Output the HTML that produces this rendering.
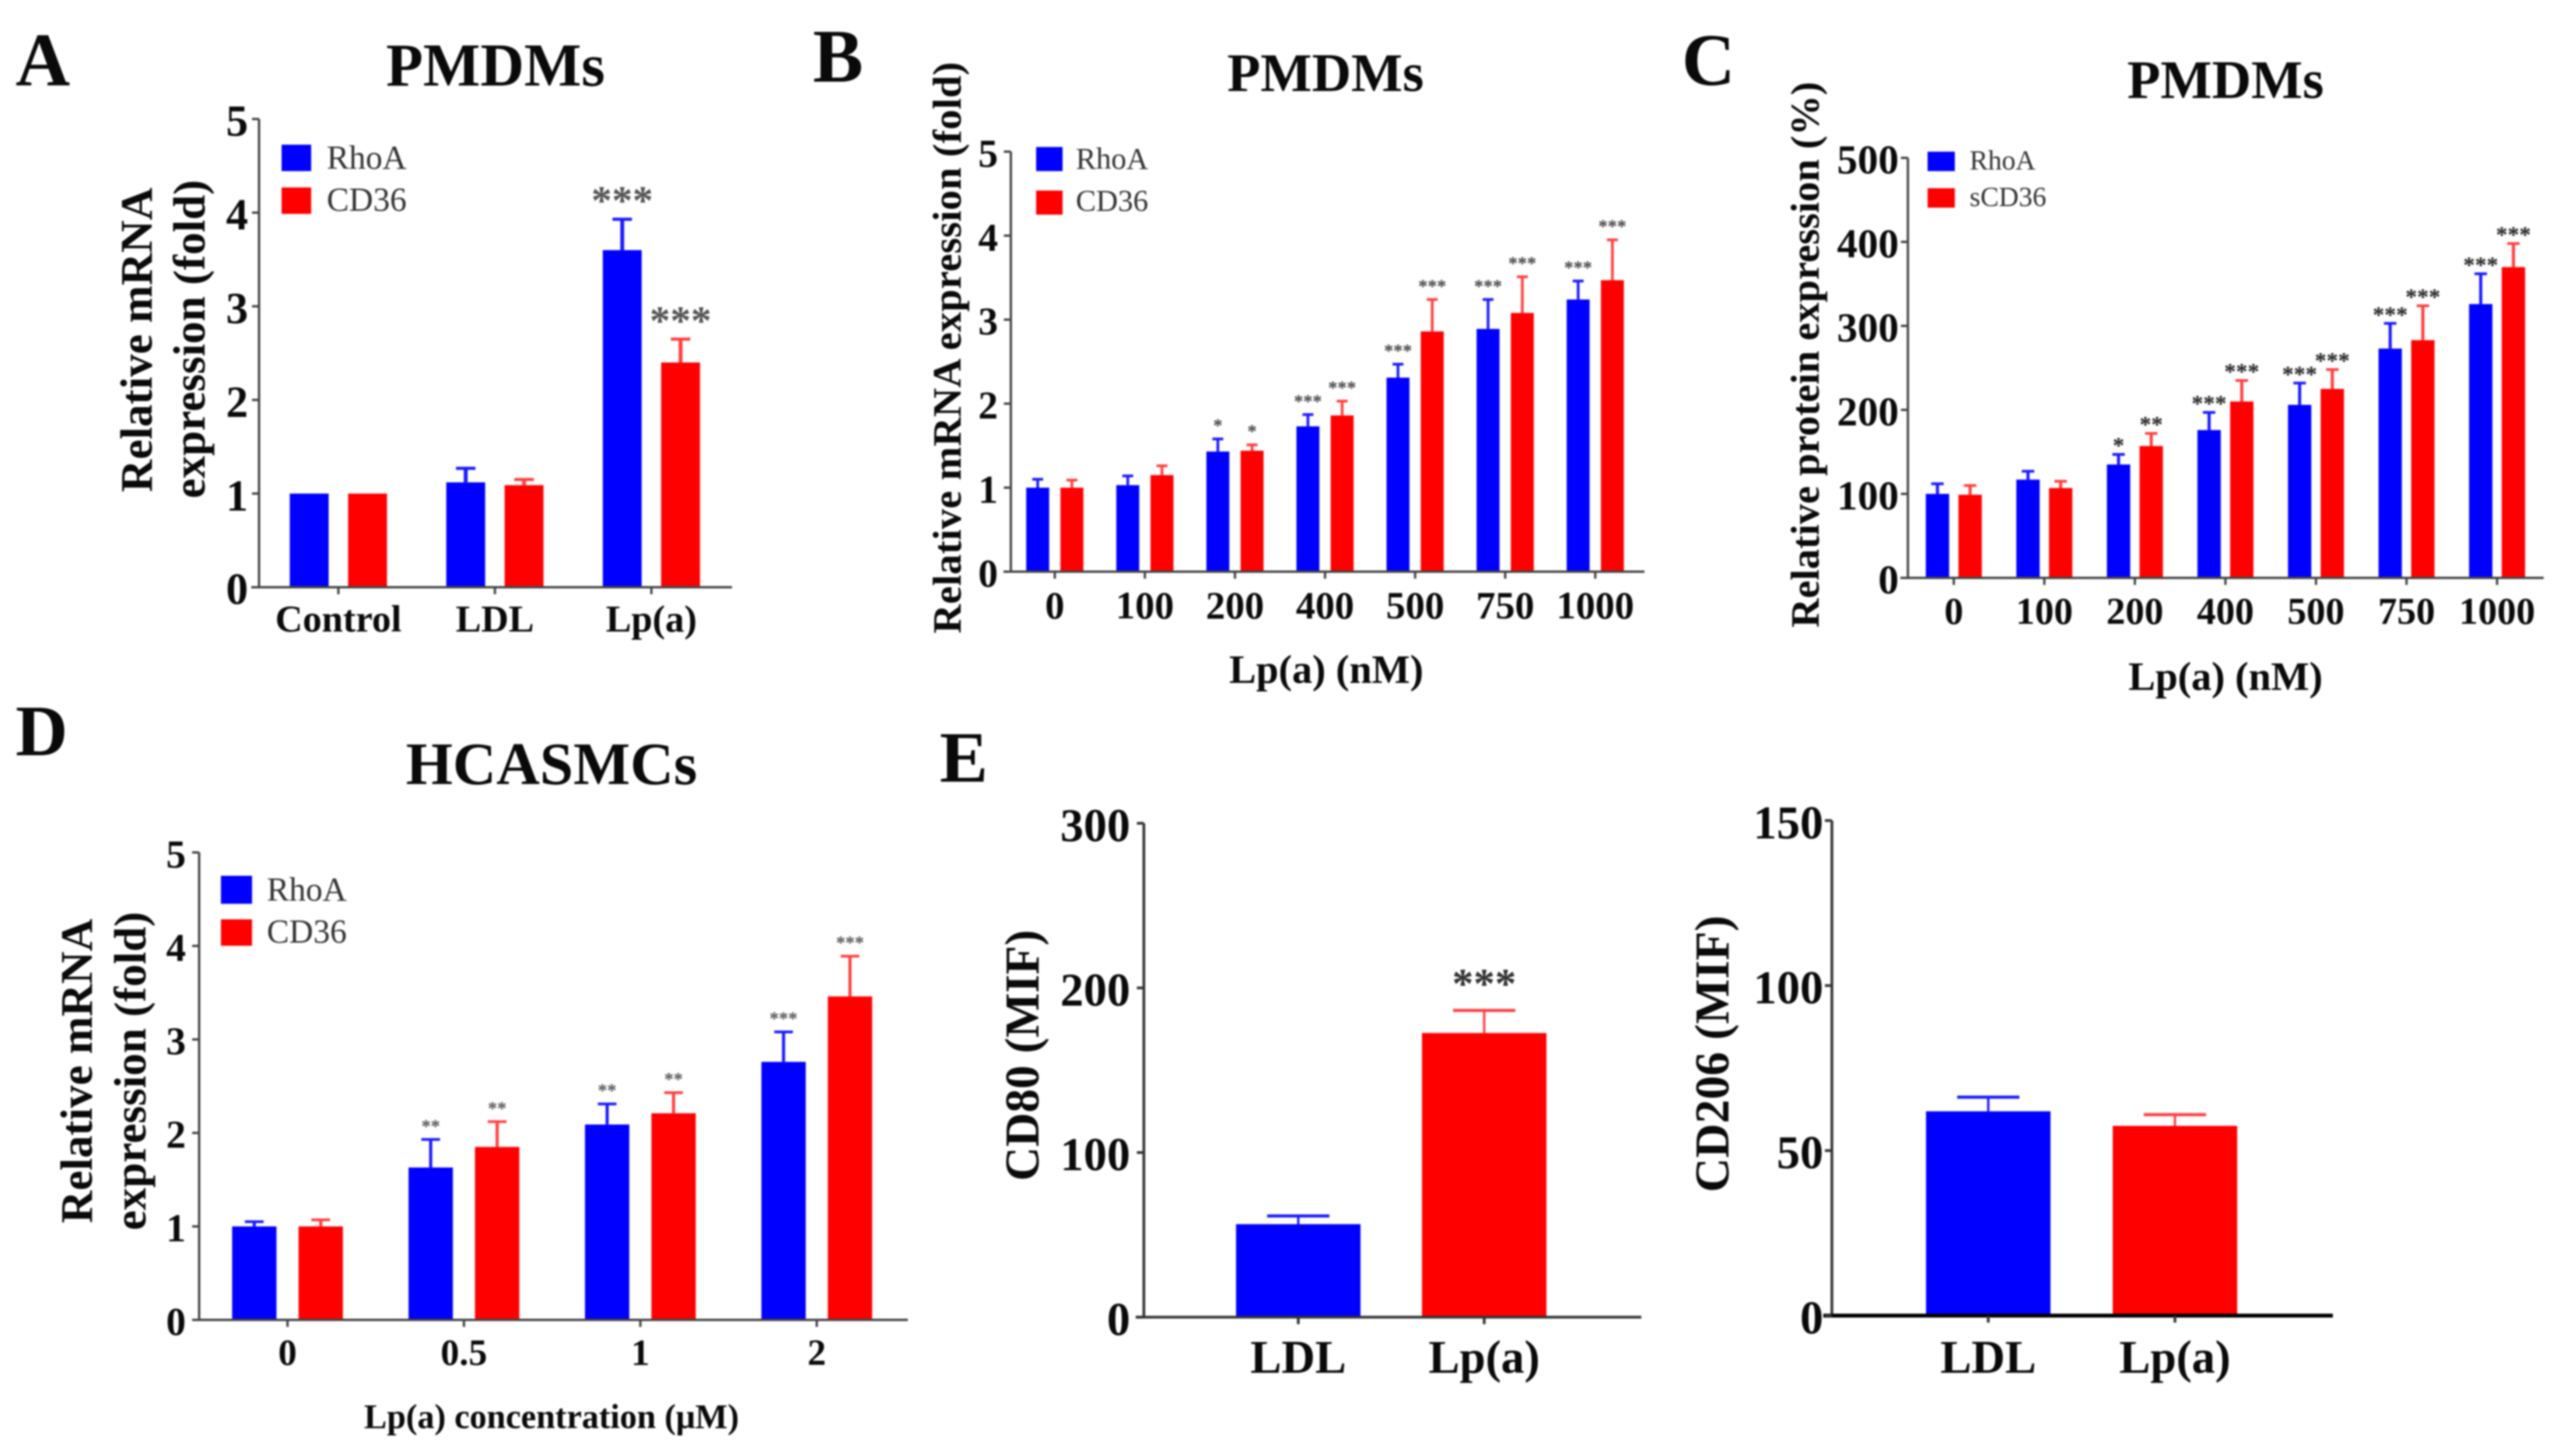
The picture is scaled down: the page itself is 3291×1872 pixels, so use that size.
<!DOCTYPE html>
<html>
<head>
<meta charset="utf-8">
<title>RhoA and CD36 expression panels</title>
<style>
html,body{margin:0;padding:0;background:#fff;}
svg{display:block;filter:blur(1px);}
text{font-family:"Liberation Serif",serif;}
.b{font-weight:bold;fill:#0a0a0a;}
.leg{fill:#333;}
</style>
</head>
<body>
<svg id="figure" xmlns="http://www.w3.org/2000/svg" width="3291" height="1872" viewBox="0 0 3291 1872">
  <rect x="0" y="0" width="3291" height="1872" fill="#fff"/>

  <!-- Panel letters -->
  <text class="b" x="20" y="110" font-size="97">A</text>
  <text class="b" x="1045" y="105" font-size="97">B</text>
  <text class="b" x="2162" y="109" font-size="95">C</text>
  <text class="b" x="20" y="971" font-size="93">D</text>
  <text class="b" x="1208" y="1005" font-size="93">E</text>

  <!-- Titles -->
  <text class="b" x="637" y="110" font-size="78" text-anchor="middle">PMDMs</text>
  <text class="b" x="1704" y="117" font-size="70" text-anchor="middle">PMDMs</text>
  <text class="b" x="2861" y="126" font-size="70" text-anchor="middle">PMDMs</text>
  <text class="b" x="709" y="1008" font-size="77.5" text-anchor="middle">HCASMCs</text>

  <!-- Y axis titles -->
  <text class="b" transform="translate(195,437) rotate(-90)" font-size="58" text-anchor="middle">Relative mRNA</text>
  <text class="b" transform="translate(263,436) rotate(-90)" font-size="58" text-anchor="middle">expression (fold)</text>
  <text class="b" transform="translate(1235,447) rotate(-90)" font-size="52" text-anchor="middle" textLength="735" lengthAdjust="spacing">Relative mRNA expression (fold)</text>
  <text class="b" transform="translate(2338,456) rotate(-90)" font-size="52" text-anchor="middle" textLength="702" lengthAdjust="spacing">Relative protein expression (%)</text>
  <text class="b" transform="translate(118,1377) rotate(-90)" font-size="58" text-anchor="middle">Relative mRNA</text>
  <text class="b" transform="translate(187,1377) rotate(-90)" font-size="58" text-anchor="middle">expression (fold)</text>
  <text class="b" transform="translate(1335,1357) rotate(-90)" font-size="62" text-anchor="middle" textLength="323" lengthAdjust="spacingAndGlyphs">CD80 (MIF)</text>
  <text class="b" transform="translate(2222,1355) rotate(-90)" font-size="62" text-anchor="middle" textLength="356" lengthAdjust="spacingAndGlyphs">CD206 (MIF)</text>

  <!-- X axis titles -->
  <text class="b" x="1705" y="878" font-size="52" text-anchor="middle">Lp(a) (nM)</text>
  <text class="b" x="2861" y="887" font-size="52" text-anchor="middle">Lp(a) (nM)</text>
  <text class="b" x="709" y="1836" font-size="44" text-anchor="middle">Lp(a) concentration (μM)</text>

  <!-- Legends -->
  <g>
    <rect x="362" y="186" width="38" height="34" fill="#0000ff"/>
    <text class="leg" x="420" y="217" font-size="43">RhoA</text>
    <rect x="362" y="241" width="38" height="34" fill="#ff0000"/>
    <text class="leg" x="420" y="271" font-size="43">CD36</text>
  </g>
  <g>
    <rect x="1332" y="189" width="34" height="31" fill="#0000ff"/>
    <text class="leg" x="1383" y="217" font-size="39">RhoA</text>
    <rect x="1332" y="245" width="34" height="31" fill="#ff0000"/>
    <text class="leg" x="1383" y="271" font-size="39">CD36</text>
  </g>
  <g>
    <rect x="2478" y="195" width="35" height="25" fill="#0000ff"/>
    <text class="leg" x="2532" y="218" font-size="35.5">RhoA</text>
    <rect x="2478" y="242" width="35" height="25" fill="#ff0000"/>
    <text class="leg" x="2532" y="265" font-size="35.5">sCD36</text>
  </g>
  <g>
    <rect x="284" y="1126" width="40" height="36" fill="#0000ff"/>
    <text class="leg" x="343" y="1158" font-size="43">RhoA</text>
    <rect x="284" y="1182" width="40" height="34" fill="#ff0000"/>
    <text class="leg" x="343" y="1212" font-size="43">CD36</text>
  </g>
</svg>

<script>
// Panel A
const aCategories = ['Control', 'LDL', 'Lp(a)'];
const aTicks = [0, 1, 2, 3, 4, 5];
const aRhoa = [1, 1.12, 3.6];
const aCd36 = [1, 1.09, 2.4];
const aRhoaErr = [0, 0.15, 0.33];
const aCd36Err = [0, 0.06, 0.25];
const aRhoaSig = ['', '', '***'];
const aCd36Sig = ['', '', '***'];

// Panel B
const bCategories = ['0', '100', '200', '400', '500', '750', '1000'];
const bTicks = [0, 1, 2, 3, 4, 5];
const bRhoa = [1, 1.03, 1.43, 1.73, 2.31, 2.89, 3.24];
const bCd36 = [1, 1.15, 1.44, 1.86, 2.86, 3.08, 3.47];
const bRhoaErr = [0.10, 0.11, 0.15, 0.14, 0.16, 0.35, 0.22];
const bCd36Err = [0.09, 0.11, 0.07, 0.17, 0.38, 0.43, 0.48];
const bRhoaSig = ['', '', '*', '***', '***', '***', '***'];
const bCd36Sig = ['', '', '*', '***', '***', '***', '***'];

// Panel C
const cCategories = ['0', '100', '200', '400', '500', '750', '1000'];
const cTicks = [0, 100, 200, 300, 400, 500];
const cRhoa = [100, 117, 135, 176, 206, 273, 326];
const cScd36 = [99, 107, 157, 210, 225, 283, 370];
const cRhoaErr = [12, 10, 12, 21, 26, 30, 36];
const cScd36Err = [11, 8, 15, 25, 23, 41, 28];
const cRhoaSig = ['', '', '*', '***', '***', '***', '***'];
const cScd36Sig = ['', '', '**', '***', '***', '***', '***'];

// Panel D
const dCategories = ['0', '0.5', '1', '2'];
const dTicks = [0, 1, 2, 3, 4, 5];
const dRhoa = [1, 1.63, 2.09, 2.76];
const dCd36 = [1, 1.85, 2.21, 3.46];
const dRhoaErr = [0.05, 0.30, 0.22, 0.32];
const dCd36Err = [0.07, 0.27, 0.22, 0.43];
const dRhoaSig = ['', '**', '**', '***'];
const dCd36Sig = ['', '**', '**', '***'];

// Panel E
const eCategories = ['LDL', 'Lp(a)'];
const eCd80Ticks = [0, 100, 200, 300];
const eCd80 = [56.5, 172.6];
const eCd80Err = [5, 13.7];
const eCd80Sig = ['', '***'];
const eCd206Ticks = [0, 50, 100, 150];
const eCd206 = [61.9, 57.5];
const eCd206Err = [4.3, 3.4];
const eCd206Sig = ['', ''];

const NS = 'http://www.w3.org/2000/svg';
const figure = document.getElementById('figure');
const BLUE = '#0000ff';
const RED = '#ff0000';
const BLUE_ERR = '#1a1aff';
const RED_ERR = '#ff4040';

function mk(tag, parent, attrs) {
  const el = document.createElementNS(NS, tag);
  for (const k in attrs) el.setAttribute(k, attrs[k]);
  parent.appendChild(el);
  return el;
}

function line(parent, x1, y1, x2, y2, color, width) {
  return mk('line', parent, { x1: x1, y1: y1, x2: x2, y2: y2, stroke: color, 'stroke-width': width });
}

// series: [{name, values, errs, sigs, color, errColor, offset}]
function drawPanel(name, g, categories, ticks, series) {
  const group = mk('g', figure, {});
  
  

  const yMax = ticks[ticks.length - 1];
  const yScale = v => g.y0 - v * (g.y0 - g.yTop) / yMax;
  const xScale = i => g.x0 + i * g.step;

  // bars, error bars, significance marks
  series.forEach(s => {
    s.values.forEach((v, i) => {
      if (v === null) return;
      const cx = xScale(i) + s.offset;
      const top = yScale(v);
      const err = s.errs[i];
      if (err > 0) {
        const errTop = yScale(v + err);
        const stem = line(group, cx, top, cx, errTop, s.errColor, g.stem);
        
        
        const cap = line(group, cx - g.cap / 2, errTop, cx + g.cap / 2, errTop, s.errColor, g.capH);
        
        
      }
      const bar = mk('rect', group, { x: cx - g.barW / 2, y: top, width: g.barW, height: g.y0 - top, fill: s.color });
      
      
      if (s.sigs[i]) {
        const sig = mk('text', group, {
          x: cx,
          y: yScale(v + err) - g.sigGap + g.sigFont * 0.45,
          'font-size': g.sigFont,
          'font-weight': 'bold',
          'text-anchor': 'middle',
          fill: g.sigColor || '#555'
        });
        sig.textContent = s.sigs[i];
        
        
      }
    });
  });

  // axes
  const yAxis = line(group, g.axisX, g.yTop, g.axisX, g.y0, g.axisColor, g.axisW);
  
  
  const xAxis = line(group, g.xStart, g.y0, g.xEnd, g.y0, g.xAxisColor || g.axisColor, g.xAxisW || g.axisW);
  
  

  ticks.forEach(t => {
    const y = yScale(t);
    const tick = line(group, g.axisX - g.tickLen, y, g.axisX, y, g.axisColor, g.axisW);
    
    
    const label = mk('text', group, {
      x: g.yLabelRight,
      y: y + g.yFont * 0.38,
      'font-size': g.yFont,
      'font-weight': 'bold',
      'text-anchor': 'end',
      fill: '#0a0a0a'
    });
    label.textContent = t;
    
    
  });

  categories.forEach((c, i) => {
    const x = xScale(i);
    const tick = line(group, x, g.y0, x, g.y0 + g.tickLen, g.axisColor, g.axisW);
    
    
    const label = mk('text', group, {
      x: x,
      y: g.xLabelY,
      'font-size': g.xFont,
      'font-weight': 'bold',
      'text-anchor': 'middle',
      fill: '#0a0a0a'
    });
    label.textContent = c;
    
    
  });
}

drawPanel('panel-a-chart',
  { x0: 435, step: 201.2, y0: 755, yTop: 153, axisX: 333, xStart: 323, xEnd: 941, barW: 50, stem: 5, cap: 25, capH: 4, sigFont: 53, sigGap: 30, axisColor: '#444', axisW: 3, tickLen: 9, yFont: 57, yLabelRight: 319, xFont: 49, xLabelY: 812 },
  aCategories, aTicks,
  [
    { name: 'rhoa', values: aRhoa, errs: aRhoaErr, sigs: aRhoaSig, color: BLUE, errColor: BLUE_ERR, offset: -37.5 },
    { name: 'cd36', values: aCd36, errs: aCd36Err, sigs: aCd36Sig, color: RED, errColor: RED_ERR, offset: 37.5 }
  ]);

drawPanel('panel-b-chart',
  { x0: 1356, step: 115.8, y0: 735, yTop: 195, axisX: 1299.5, xStart: 1290, xEnd: 2114, barW: 29.5, stem: 3.5, cap: 14, capH: 3.5, sigFont: 24, sigGap: 20, sigColor: '#444', axisColor: '#444', axisW: 3, tickLen: 9, yFont: 51, yLabelRight: 1283, xFont: 50, xLabelY: 795 },
  bCategories, bTicks,
  [
    { name: 'rhoa', values: bRhoa, errs: bRhoaErr, sigs: bRhoaSig, color: BLUE, errColor: BLUE_ERR, offset: -22 },
    { name: 'cd36', values: bCd36, errs: bCd36Err, sigs: bCd36Sig, color: RED, errColor: RED_ERR, offset: 22 }
  ]);

drawPanel('panel-c-chart',
  { x0: 2511.7, step: 116.4, y0: 743, yTop: 203, axisX: 2452.7, xStart: 2443, xEnd: 3270, barW: 30, stem: 4, cap: 16, capH: 3.5, sigFont: 30, sigGap: 15, sigColor: '#222', axisColor: '#444', axisW: 3, tickLen: 9, yFont: 53, yLabelRight: 2441, xFont: 49, xLabelY: 802 },
  cCategories, cTicks,
  [
    { name: 'rhoa', values: cRhoa, errs: cRhoaErr, sigs: cRhoaSig, color: BLUE, errColor: BLUE_ERR, offset: -21 },
    { name: 'scd36', values: cScd36, errs: cScd36Err, sigs: cScd36Sig, color: RED, errColor: RED_ERR, offset: 21 }
  ]);

drawPanel('panel-d-chart',
  { x0: 369.6, step: 226.8, y0: 1697, yTop: 1096, axisX: 256, xStart: 247, xEnd: 1167, barW: 57, stem: 4, cap: 24, capH: 3.5, sigFont: 24, sigGap: 20, axisColor: '#444', axisW: 3, tickLen: 9, yFont: 51, yLabelRight: 239, xFont: 48, xLabelY: 1755 },
  dCategories, dTicks,
  [
    { name: 'rhoa', values: dRhoa, errs: dRhoaErr, sigs: dRhoaSig, color: BLUE, errColor: BLUE_ERR, offset: -42.7 },
    { name: 'cd36', values: dCd36, errs: dCd36Err, sigs: dCd36Sig, color: RED, errColor: RED_ERR, offset: 42.7 }
  ]);

drawPanel('panel-e-cd80-chart',
  { x0: 1669, step: 239, y0: 1693.5, yTop: 1058.5, axisX: 1470.5, xStart: 1460, xEnd: 2110, barW: 160, stem: 3, cap: 80, capH: 4, sigFont: 55, sigGap: 41, sigColor: '#333', axisColor: '#333', axisW: 3.5, tickLen: 9, yFont: 60, yLabelRight: 1453, xFont: 60, xLabelY: 1765 },
  eCategories, eCd80Ticks,
  [
    { name: 'cd80-ldl', values: [eCd80[0], null], errs: eCd80Err, sigs: eCd80Sig, color: BLUE, errColor: BLUE_ERR, offset: 0 },
    { name: 'cd80-lpa', values: [null, eCd80[1]], errs: eCd80Err, sigs: eCd80Sig, color: RED, errColor: RED_ERR, offset: 0 }
  ]);

drawPanel('panel-e-cd206-chart',
  { x0: 2556, step: 240, y0: 1691.5, yTop: 1055, axisX: 2355, xStart: 2344, xEnd: 2999, barW: 160, stem: 3, cap: 80, capH: 4, sigFont: 55, sigGap: 41, axisColor: '#333', xAxisColor: '#000', xAxisW: 5, axisW: 3.5, tickLen: 9, yFont: 60, yLabelRight: 2344, xFont: 60, xLabelY: 1765 },
  eCategories, eCd206Ticks,
  [
    { name: 'cd206-ldl', values: [eCd206[0], null], errs: eCd206Err, sigs: eCd206Sig, color: BLUE, errColor: BLUE_ERR, offset: 0 },
    { name: 'cd206-lpa', values: [null, eCd206[1]], errs: eCd206Err, sigs: eCd206Sig, color: RED, errColor: RED_ERR, offset: 0 }
  ]);
</script>
</body>
</html>
